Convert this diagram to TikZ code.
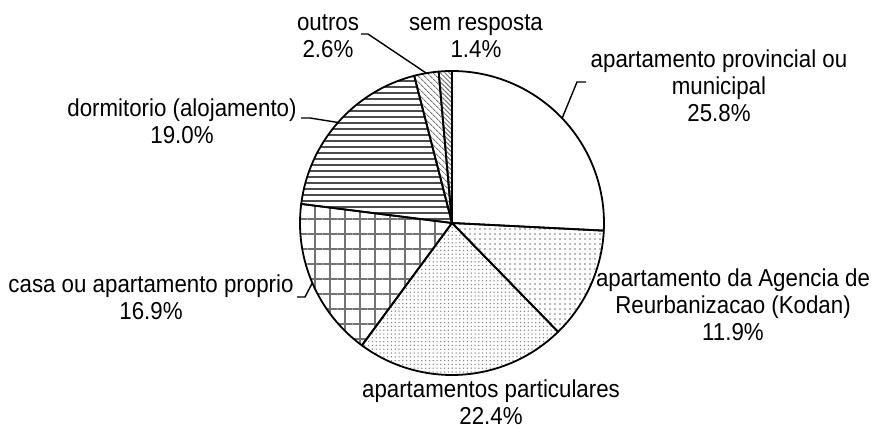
\documentclass[tikz,border=0pt]{standalone}
\usepackage{fontspec}
\setmainfont{Liberation Sans}[FakeStretch=0.91]
\usetikzlibrary{patterns.meta}
\begin{document}
\begin{tikzpicture}[x=1pt,y=1pt,
  slice/.style={draw=black,line width=1.8pt,line join=round},
  lbl/.style={font=\fontsize{24.5}{27}\selectfont,align=center,inner sep=0pt,text=black},
  leader/.style={draw=black,line width=1.4pt}]
\useasboundingbox (0,0) rectangle (871,429);
\coordinate (C) at (452,206);
\def\R{152pt}
% slices (clockwise from 12 o'clock)
\draw[slice,fill=white] (C) -- ++(90:\R) arc[start angle=90,end angle=-2.88,radius=\R] -- cycle;
\draw[slice,pattern={Dots[distance=5pt,radius=0.8pt]},pattern color=black!55] (C) -- ++(-2.88:\R) arc[start angle=-2.88,end angle=-45.72,radius=\R] -- cycle;
\draw[slice,pattern={Dots[distance=3.8pt,radius=0.75pt]},pattern color=black!50] (C) -- ++(-45.72:\R) arc[start angle=-45.72,end angle=-126.36,radius=\R] -- cycle;
\draw[slice,pattern={Hatch[distance=15pt,line width=1.3pt]},pattern color=black!55] (C) -- ++(-126.36:\R) arc[start angle=-126.36,end angle=-187.2,radius=\R] -- cycle;
\draw[slice,pattern={Lines[angle=0,distance=6pt,line width=1.6pt]},pattern color=black!70] (C) -- ++(-187.2:\R) arc[start angle=-187.2,end angle=-255.6,radius=\R] -- cycle;
\draw[slice,pattern={Lines[angle=-45,distance=4pt,line width=1pt]},pattern color=black!55] (C) -- ++(-255.6:\R) arc[start angle=-255.6,end angle=-264.96,radius=\R] -- cycle;
\draw[slice,pattern={Lines[angle=-45,distance=3.2pt,line width=1pt]},pattern color=black!55] (C) -- ++(-264.96:\R) arc[start angle=-264.96,end angle=-270,radius=\R] -- cycle;
% labels
\node[lbl] (outros) at (328,392.5) {outros\\2.6\%};
\node[lbl] (sem) at (476,392.5) {sem resposta\\1.4\%};
\node[lbl] (prov) at (719,343.5) {apartamento provincial ou\\municipal\\25.8\%};
\node[lbl] (dorm) at (182,308) {dormitorio (alojamento)\\19.0\%};
\node[lbl] (casa) at (151,132) {casa ou apartamento proprio\\16.9\%};
\node[lbl] (kodan) at (733,124) {apartamento da Agencia de\\Reurbanizacao (Kodan)\\11.9\%};
\node[lbl] (part) at (491,27) {apartamentos particulares\\22.4\%};
% leader lines
\coordinate (a6) at ([shift={(99.72:\R)}]C);
\coordinate (t6a) at (361,395);
\coordinate (t6b) at (368,395);
\draw[leader] (t6a) -- (t6b) -- (a6);
\coordinate (a1) at ([shift={(43.56:\R)}]C);
\coordinate (t1a) at (586,347);
\coordinate (t1b) at (577,347);
\draw[leader] (t1a) -- (t1b) -- (a1);
\coordinate (a5) at ([shift={(138.6:\R)}]C);
\coordinate (t5a) at (301,311);
\coordinate (t5b) at (310,311);
\draw[leader] (t5a) -- (t5b) -- (a5);
\coordinate (a4) at ([shift={(203.22:\R)}]C);
\coordinate (t4a) at (297,132);
\coordinate (t4b) at (305,132);
\draw[leader] (t4a) -- (t4b) -- (a4);
\end{tikzpicture}
\end{document}
